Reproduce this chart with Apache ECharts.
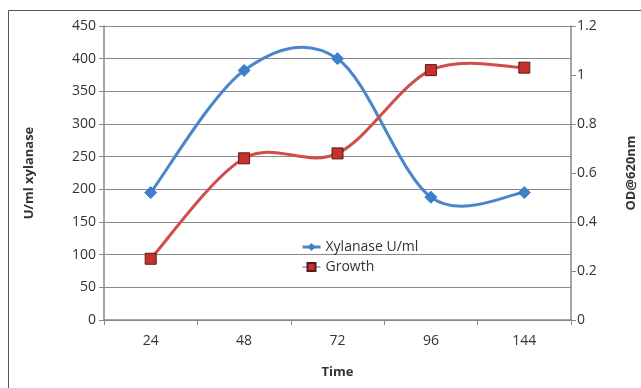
<!DOCTYPE html>
<html><head><meta charset="utf-8">
<script src="https://cdn.jsdelivr.net/npm/echarts@6/dist/echarts.min.js"></script>
<style>html,body{margin:0;padding:0;background:#fff}#c{width:641px;height:388px}</style>
</head><body><div id="c"></div>
<script>
const categories = ['24', '48', '72', '96', '144'];
const xylanase = [195, 382, 400, 188, 195];
const growth = [0.25, 0.66, 0.68, 1.02, 1.03];
const leftTicks = [0, 450, 50];
const rightTicks = [0, 1.2, 0.2];

const font = '"Open Sans", "Noto Sans", sans-serif';

// Excel-like Catmull-Rom smooth curve drawn through the axis scales
function smoothCurve(values, color) {
  return function (params, api) {
    if (params.dataIndex !== 0) return null;
    const pts = values.map((v, i) => api.coord([i, v]));
    const n = pts.length;
    let d = 'M' + pts[0][0] + ' ' + pts[0][1];
    for (let i = 0; i < n - 1; i++) {
      const p0 = pts[Math.max(i - 1, 0)], p1 = pts[i], p2 = pts[i + 1], p3 = pts[Math.min(i + 2, n - 1)];
      const t = 1 / 6;
      const c1 = [p1[0] + (p2[0] - p0[0]) * t, p1[1] + (p2[1] - p0[1]) * t];
      const c2 = [p2[0] - (p3[0] - p1[0]) * t, p2[1] - (p3[1] - p1[1]) * t];
      d += ' C' + c1[0] + ' ' + c1[1] + ' ' + c2[0] + ' ' + c2[1] + ' ' + p2[0] + ' ' + p2[1];
    }
    return {type: 'path', shape: {pathData: d}, style: {fill: 'none', stroke: color, lineWidth: 3}, silent: true};
  };
}

const chart = echarts.init(document.getElementById('c'));
chart.setOption({
  animation: false,
  backgroundColor: '#fff',
  graphic: [{type: 'polyline', silent: true, z: 100,
    shape: {points: [[8.5, 400], [8.5, 10.5], [650, 10.5]]},
    style: {fill: 'transparent', stroke: '#555', lineWidth: 1}}],
  grid: {left: 104, right: 70, top: 26, bottom: 68, outerBoundsMode: 'none'},
  legend: {
    orient: 'vertical', left: 296, top: 235, itemGap: 6, itemWidth: 18, itemHeight: 10,
    textStyle: {fontFamily: font, fontSize: 14, color: '#333'},
    data: [
      {name: 'Xylanase U/ml', lineStyle: {color: '#4a86c8', width: 3, opacity: 1}},
      {name: 'Growth', lineStyle: {color: '#4a86c8', width: 2, opacity: 0.6}}
    ]
  },
  xAxis: {
    type: 'category', data: categories, boundaryGap: true,
    name: 'Time', nameLocation: 'middle', nameGap: 46,
    nameTextStyle: {fontFamily: font, fontSize: 13, fontWeight: 'bold', color: '#333'},
    axisLine: {lineStyle: {color: '#888', width: 1.5}},
    axisTick: {show: true, length: 5, lineStyle: {color: '#888'}},
    axisLabel: {fontFamily: font, fontSize: 14, color: '#333', margin: 14},
    splitLine: {show: false}
  },
  yAxis: [{
    type: 'value', min: leftTicks[0], max: leftTicks[1], interval: leftTicks[2], position: 'left',
    name: 'U/ml xylanase', nameLocation: 'middle', nameGap: 68, nameRotate: 90,
    nameTextStyle: {fontFamily: font, fontSize: 13, fontWeight: 'bold', color: '#333'},
    axisLine: {show: true, lineStyle: {color: '#888', width: 1.5}},
    axisTick: {show: true, length: 5, lineStyle: {color: '#888'}},
    axisLabel: {fontFamily: font, fontSize: 14, color: '#333', margin: 8},
    splitLine: {show: true, lineStyle: {color: '#8a8a8a', width: 1.2, type: 'solid'}}
  }, {
    type: 'value', min: rightTicks[0], max: rightTicks[1], interval: rightTicks[2], position: 'right',
    name: 'OD@620nm', nameLocation: 'middle', nameGap: 54, nameRotate: 90,
    nameTextStyle: {fontFamily: font, fontSize: 13, fontWeight: 'bold', color: '#333'},
    axisLine: {show: true, lineStyle: {color: '#888', width: 1.5}},
    axisTick: {show: true, length: 5, lineStyle: {color: '#888'}},
    axisLabel: {fontFamily: font, fontSize: 14, color: '#333', margin: 6},
    splitLine: {show: false}
  }],
  series: [{
    type: 'custom', yAxisIndex: 0, data: xylanase, z: 1, silent: true,
    renderItem: smoothCurve(xylanase, '#4a86c8')
  }, {
    type: 'custom', yAxisIndex: 1, data: growth, z: 1, silent: true,
    renderItem: smoothCurve(growth, '#d14d4a')
  }, {
    name: 'Xylanase U/ml', type: 'line', yAxisIndex: 0, data: xylanase, z: 3,
    symbol: 'diamond', symbolSize: 12,
    lineStyle: {opacity: 0},
    itemStyle: {color: '#3f7fc9', borderColor: '#3f7fc9'}
  }, {
    name: 'Growth', type: 'line', yAxisIndex: 1, data: growth, z: 3,
    symbol: 'rect', symbolSize: 11,
    lineStyle: {opacity: 0},
    itemStyle: {color: '#c8302c', borderColor: '#5a1a18', borderWidth: 1}
  }]
});
</script></body></html>
